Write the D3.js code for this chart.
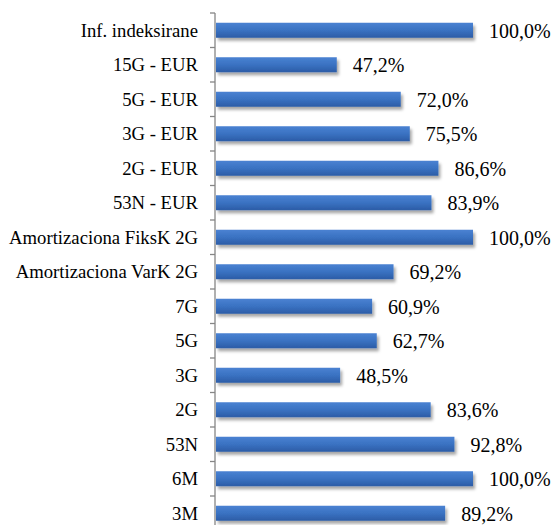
<!DOCTYPE html>
<html><head><meta charset="utf-8">
<script src="https://cdn.jsdelivr.net/npm/d3@7"></script>
</head><body style="margin:0">
<svg id="c" width="554" height="525" font-family="Liberation Serif" style="font-family:'Liberation Serif'"></svg>
<script>
const categories = ["Inf. indeksirane","15G - EUR","5G - EUR","3G - EUR","2G - EUR","53N - EUR","Amortizaciona FiksK 2G","Amortizaciona VarK 2G","7G","5G","3G","2G","53N","6M","3M"];
const values = [100.0,47.2,72.0,75.5,86.6,83.9,100.0,69.2,60.9,62.7,48.5,83.6,92.8,100.0,89.2];

const svg = d3.select("#c");
const x = d3.scaleLinear().domain([0,100]).range([215,473]);
const y = d3.scaleBand().domain(categories).range([13,530.5]).paddingInner(0.565).paddingOuter(0.2825);
const step = y.step();

const defs = svg.append("defs");
const g = defs.append("linearGradient").attr("id","bg").attr("x1",0).attr("y1",0).attr("x2",0).attr("y2",1);
g.append("stop").attr("offset","0%").attr("stop-color","#4a82d2");
g.append("stop").attr("offset","50%").attr("stop-color","#3a72c2");
g.append("stop").attr("offset","100%").attr("stop-color","#2c5ca6");
const f = defs.append("filter").attr("id","sh").attr("x","-10%").attr("y","-50%").attr("width","130%").attr("height","250%");
f.append("feDropShadow").attr("dx",2).attr("dy",3).attr("stdDeviation",1.8).attr("flood-color","#000").attr("flood-opacity",0.35);

// bars
svg.selectAll("rect.bar").data(values).join("rect").attr("class","bar")
  .attr("x", x(0)+1)
  .attr("y",(d,i)=>y(categories[i]))
  .attr("width",d=>x(d)-x(0)-1)
  .attr("height",y.bandwidth())
  .attr("fill","url(#bg)")
  .attr("filter","url(#sh)");

// axis
const y0 = y.range()[0];
svg.append("line").attr("x1",x(0)).attr("x2",x(0)).attr("y1",y0).attr("y2",y.range()[1]).attr("stroke","#868686").attr("stroke-width",1.3);
d3.range(categories.length+1).forEach(i=>{
  svg.append("line").attr("x1",x(0)-5).attr("x2",x(0)).attr("y1",y0+i*step).attr("y2",y0+i*step).attr("stroke","#868686").attr("stroke-width",1.3);
});

// category labels
svg.selectAll("text.cat").data(categories).join("text").attr("class","cat")
  .attr("x",198).attr("y",d=>y(d)+y.bandwidth()/2).attr("dy","0.36em")
  .attr("text-anchor","end")
  .style("font-family","'Liberation Serif', serif")
  .attr("font-size",18.7).attr("fill","#000").text(d=>d);

// value labels
const fmt = v => v.toFixed(1).replace(".",",")+"%";
svg.selectAll("text.val").data(values).join("text").attr("class","val")
  .attr("x",d=>x(d)+16).attr("y",(d,i)=>y(categories[i])+y.bandwidth()/2).attr("dy","0.38em")
  .style("font-family","'Liberation Serif', serif")
  .attr("font-size",20).attr("fill","#000").text(fmt);
</script>
</body></html>
